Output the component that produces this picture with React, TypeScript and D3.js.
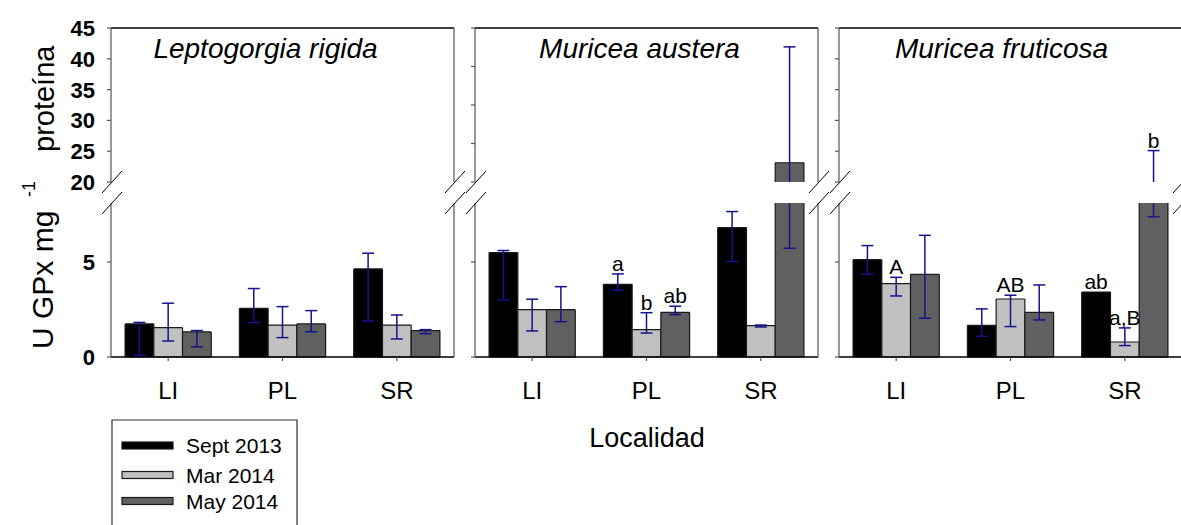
import React from 'react';
import * as d3 from 'd3';

const categories = ['LI', 'PL', 'SR'];
const seriesNames = ['Sept 2013', 'Mar 2014', 'May 2014'];
const speciesNames = ['Leptogorgia rigida', 'Muricea austera', 'Muricea fruticosa'];

// Leptogorgia rigida
const lrSept = [1.74, 2.56, 4.63];
const lrSeptLo = [0.1, 1.81, 1.89];
const lrSeptHi = [1.82, 3.6, 5.46];
const lrMar = [1.54, 1.68, 1.68];
const lrMarLo = [0.84, 1.02, 0.95];
const lrMarHi = [2.83, 2.65, 2.21];
const lrMay = [1.32, 1.74, 1.39];
const lrMayLo = [0.54, 1.33, 1.23];
const lrMayHi = [1.39, 2.44, 1.44];

// Muricea austera
const maSept = [5.49, 3.82, 6.81];
const maSeptLo = [3.0, 3.51, 5.02];
const maSeptHi = [5.6, 4.37, 7.65];
const maMar = [2.49, 1.44, 1.65];
const maMarLo = [1.37, 1.26, 1.58];
const maMarHi = [3.04, 2.33, 1.68];
const maMay = [2.49, 2.35, 25.0];
const maMayLo = [1.86, 2.23, 5.72];
const maMayHi = [3.7, 2.67, 55.1];

// Muricea fruticosa
const mfSept = [5.12, 1.67, 3.42];
const mfSeptLo = [4.35, 1.09, 3.42];
const mfSeptHi = [5.86, 2.53, 3.42];
const mfMar = [3.86, 3.05, 0.79];
const mfMarLo = [3.21, 1.6, 0.6];
const mfMarHi = [4.19, 3.25, 1.53];
const mfMay = [4.35, 2.35, 12];
const mfMayLo = [2.04, 1.95, 7.38];
const mfMayHi = [6.4, 3.79, 25.1];

const lrLetters = [['', '', ''], ['', '', ''], ['', '', '']];
const maLetters = [['', 'a', ''], ['', 'b', ''], ['', 'ab', '']];
const mfLetters = [['', '', 'ab'], ['A', 'AB', 'a,B'], ['', '', 'b']];

const lowerDomain = [0, 8.1];
const lowerTicks = [0, 5];
const upperDomains = [[20, 45], [20, 60], [20, 45]];
const upperTicksList = [[20, 25, 30, 35, 40, 45], [20, 30, 40, 50, 60], [20, 25, 30, 35, 40, 45]];

const panels = [
  { vals: [lrSept, lrMar, lrMay], lo: [lrSeptLo, lrMarLo, lrMayLo], hi: [lrSeptHi, lrMarHi, lrMayHi], letters: lrLetters },
  { vals: [maSept, maMar, maMay], lo: [maSeptLo, maMarLo, maMayLo], hi: [maSeptHi, maMarHi, maMayHi], letters: maLetters },
  { vals: [mfSept, mfMar, mfMay], lo: [mfSeptLo, mfMarLo, mfMayLo], hi: [mfSeptHi, mfMarHi, mfMayHi], letters: mfLetters },
];

const colors = ['#000000', '#c0c0c0', '#606060'];
const titleShift = [-17, -7, -9];

const W = 1181, H = 525;
const panelLeft0 = 111, panelW = 343, panelGap = 21;
const yBottom = 357, yLowerTop = 203, yUpperBottom = 182, yTop = 28;
const errColor = '#14148c';
const font = '"Liberation Sans", Arial, sans-serif';
const barStroke = '#1a1a1a';

function Slashes({ x }: { x: number }) {
  return (
    <g stroke="#000" strokeWidth={1}>
      <line x1={x - 10} y1={yUpperBottom + 11} x2={x + 10} y2={yUpperBottom - 11} />
      <line x1={x - 10} y1={yLowerTop + 11} x2={x + 10} y2={yLowerTop - 11} />
    </g>
  );
}

// Bar piece: draws fill plus outline only on the edges that are not cut by the axis break
function BarPiece({ x, w, yTopPx, yBotPx, fill, openTop, openBottom }: { x: number; w: number; yTopPx: number; yBotPx: number; fill: string; openTop: boolean; openBottom: boolean }) {
  const parts: string[] = [];
  parts.push(`M${x},${yBotPx} L${x},${yTopPx}`);
  parts.push(`M${x + w},${yBotPx} L${x + w},${yTopPx}`);
  if (!openTop) parts.push(`M${x},${yTopPx} L${x + w},${yTopPx}`);
  if (!openBottom) parts.push(`M${x},${yBotPx} L${x + w},${yBotPx}`);
  return (
    <g>
      <rect x={x} y={yTopPx} width={w} height={yBotPx - yTopPx} fill={fill} />
      <path d={parts.join(' ')} fill="none" stroke={barStroke} strokeWidth={1.2} />
    </g>
  );
}

function Panel({ idx }: { idx: number }) {
  const p = panels[idx];
  const x0 = panelLeft0 + idx * (panelW + panelGap);
  const x1 = x0 + panelW;
  const xb = d3.scaleBand<string>().domain(categories).range([x0, x1]).paddingInner(0).paddingOuter(0);
  const xs = d3.scaleBand<string>().domain(seriesNames).range([0, xb.bandwidth()]).paddingInner(0).paddingOuter(0.49);
  const yl = d3.scaleLinear().domain(lowerDomain).range([yBottom, yLowerTop]);
  const yu = d3.scaleLinear().domain(upperDomains[idx]).range([yUpperBottom, yTop]);
  const lowMax = lowerDomain[1];
  const upMin = upperDomains[idx][0];
  const yOf = (v: number) => (v <= lowMax ? yl(v) : v >= upMin ? yu(v) : yl(lowMax));

  const bars: React.ReactNode[] = [];
  const errs: React.ReactNode[] = [];
  const labels: React.ReactNode[] = [];
  seriesNames.forEach((s, si) => {
    categories.forEach((c, ci) => {
      const v = p.vals[si][ci];
      const lo = p.lo[si][ci];
      const hi = p.hi[si][ci];
      const bx = (xb(c) as number) + (xs(s) as number);
      const bw = xs.bandwidth();
      const cx = bx + bw / 2;
      const vLow = Math.min(v, lowMax);
      bars.push(
        <BarPiece key={`b${si}${ci}`} x={bx} w={bw} yTopPx={yl(vLow)} yBotPx={yl(0)} fill={colors[si]}
          openTop={v > lowMax} openBottom={false} />
      );
      if (v > upMin) {
        bars.push(
          <BarPiece key={`bu${si}${ci}`} x={bx} w={bw} yTopPx={yu(v)} yBotPx={yu(upMin)} fill={colors[si]}
            openTop={false} openBottom={true} />
        );
      }
      if (hi > lo) {
        const capW = 6;
        if (lo < lowMax) {
          const a = yl(Math.max(lo, 0));
          const b = yl(Math.min(hi, lowMax));
          errs.push(<line key={`el${si}${ci}`} x1={cx} x2={cx} y1={a} y2={b} />);
        }
        if (hi > upMin) {
          const a = yu(Math.max(lo, upMin));
          const b = yu(hi);
          errs.push(<line key={`eu${si}${ci}`} x1={cx} x2={cx} y1={a} y2={b} />);
        }
        errs.push(<line key={`cl${si}${ci}`} x1={cx - capW} x2={cx + capW} y1={yOf(lo)} y2={yOf(lo)} />);
        errs.push(<line key={`ch${si}${ci}`} x1={cx - capW} x2={cx + capW} y1={yOf(hi)} y2={yOf(hi)} />);
      }
      const letter = p.letters[si][ci];
      if (letter) {
        const topV = Math.max(v, hi);
        labels.push(
          <text key={`t${si}${ci}`} x={cx} y={yOf(topV) - 3} textAnchor="middle" fontSize={21} fontFamily={font} fill="#000">{letter}</text>
        );
      }
    });
  });

  const upTicks = upperTicksList[idx];

  return (
    <g>
      {bars}
      <g stroke={errColor} strokeWidth={1.5}>{errs}</g>
      {labels}
      <line x1={x0} x2={x1} y1={yTop} y2={yTop} stroke="#000" strokeWidth={1.3} />
      <line x1={x0} x2={x1} y1={yBottom} y2={yBottom} stroke="#000" strokeWidth={1.3} />
      <g stroke="#555" strokeWidth={1.2}>
        <line x1={x0} x2={x0} y1={yTop} y2={yUpperBottom} />
        <line x1={x0} x2={x0} y1={yLowerTop} y2={yBottom} />
        <line x1={x1} x2={x1} y1={yTop} y2={yUpperBottom} />
        <line x1={x1} x2={x1} y1={yLowerTop} y2={yBottom} />
        {upTicks.map((t) => (
          <line key={`ut${t}`} x1={x0 - 4} x2={x0} y1={yu(t)} y2={yu(t)} />
        ))}
        {lowerTicks.map((t) => (
          <line key={`lt${t}`} x1={x0 - 4} x2={x0} y1={yl(t)} y2={yl(t)} />
        ))}
        {categories.map((c) => (
          <line key={`xt${c}`} x1={(xb(c) as number) + xb.bandwidth() / 2} x2={(xb(c) as number) + xb.bandwidth() / 2} y1={yBottom} y2={yBottom + 4} />
        ))}
      </g>
      <Slashes x={x0 + 1} />
      <Slashes x={x1 + 1} />
      {idx === 0 && (
        <g fontFamily={font} fontWeight="bold" fontSize={22} textAnchor="end" fill="#000">
          {upTicks.map((t) => (
            <text key={`ul${t}`} x={x0 - 16} y={yu(t) + 8}>{t}</text>
          ))}
          {lowerTicks.map((t) => (
            <text key={`ll${t}`} x={x0 - 16} y={yl(t) + 8}>{t}</text>
          ))}
        </g>
      )}
      {categories.map((c) => (
        <text key={`xl${c}`} x={(xb(c) as number) + xb.bandwidth() / 2} y={399} textAnchor="middle" fontSize={24} fontFamily={font} fill="#000">{c}</text>
      ))}
      <text x={(x0 + x1) / 2 + titleShift[idx]} y={58} textAnchor="middle" fontSize={28} fontStyle="italic" fontFamily={font} fill="#000">{speciesNames[idx]}</text>
    </g>
  );
}

export default function App() {
  const legendRows = [445.5, 475, 501];
  return (
    <svg width={W} height={H} style={{ position: 'absolute', left: 0, top: 0, background: '#fff' }}>
      <rect x={0} y={0} width={W} height={H} fill="#fff" />
      {speciesNames.map((s, i) => <Panel key={s} idx={i} />)}
      <g fontFamily={font} fill="#000">
        <text transform="translate(53,349) rotate(-90)" fontSize={30}>U GPx mg</text>
        <text transform="translate(35,197) rotate(-90)" fontSize={18}>-1</text>
        <text transform="translate(54,152) rotate(-90)" fontSize={29}>proteína</text>
      </g>
      <text x={647} y={447} textAnchor="middle" fontSize={27} fontFamily={font} fill="#000">Localidad</text>
      <path d={`M112,${H + 2} L112,420 L297,420 L297,${H + 2}`} fill="none" stroke="#333" strokeWidth={1.2} />
      {seriesNames.map((s, i) => (
        <g key={s}>
          <rect x={122} y={legendRows[i] - 3.5} width={51} height={7} fill={colors[i]} stroke={barStroke} strokeWidth={1.2} />
          <text x={186} y={legendRows[i] + 7.5} fontSize={21} fontFamily={font} fill="#000">{s}</text>
        </g>
      ))}
    </svg>
  );
}
